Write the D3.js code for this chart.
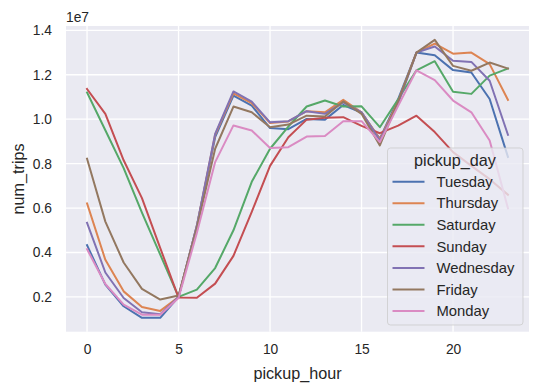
<!DOCTYPE html>
<html>
<head>
<meta charset="utf-8">
<script src="https://cdn.jsdelivr.net/npm/d3@7"></script>
<style>
  html, body { margin: 0; padding: 0; background: #ffffff; }
  svg { display: block; }
  text { font-family: "Liberation Sans", Arial, "DejaVu Sans", sans-serif; fill: #262626; }
</style>
</head>
<body>
<svg id="chart" width="540" height="391"></svg>
<script>
// ---- data (values in millions of trips) ----
const hours = d3.range(0, 24);
const days = ["Tuesday", "Thursday", "Saturday", "Sunday", "Wednesday", "Friday", "Monday"];
const colors = ["#4c72b0", "#dd8452", "#55a868", "#c44e52", "#8172b3", "#937860", "#da8bc3"];

const tuesday   = [4.33, 2.55, 1.58, 1.06, 1.06, 2.00, 5.20, 9.19, 11.06, 10.61, 9.60, 9.55, 10.01, 9.98, 10.64, 10.30, 9.12, 10.90, 13.00, 12.88, 12.21, 12.10, 10.91, 8.30];
const thursday  = [6.21, 3.67, 2.25, 1.55, 1.37, 2.00, 5.20, 9.30, 11.16, 10.72, 9.83, 9.90, 10.36, 10.31, 10.87, 10.31, 9.10, 10.80, 13.00, 13.40, 12.95, 13.00, 12.48, 10.87];
const saturday  = [11.20, 9.50, 7.80, 5.80, 3.90, 2.00, 2.33, 3.30, 5.00, 7.18, 8.67, 9.67, 10.57, 10.84, 10.57, 10.58, 9.64, 10.90, 12.20, 12.61, 11.24, 11.14, 11.96, 12.28];
const sunday    = [11.36, 10.24, 8.15, 6.45, 4.20, 1.97, 1.96, 2.60, 3.85, 5.83, 7.90, 9.19, 9.98, 10.06, 10.09, 9.70, 9.37, 9.71, 10.16, 9.42, 8.52, 7.90, 7.30, 6.60];
const wednesday = [5.34, 3.10, 1.95, 1.31, 1.22, 2.00, 5.20, 9.34, 11.25, 10.79, 9.86, 9.91, 10.36, 10.24, 10.76, 10.31, 9.04, 10.70, 13.00, 13.27, 12.63, 12.58, 11.73, 9.30];
const friday    = [8.22, 5.39, 3.55, 2.36, 1.88, 2.06, 5.10, 8.67, 10.57, 10.31, 9.64, 9.76, 10.16, 10.12, 10.80, 10.24, 8.82, 10.80, 13.00, 13.57, 12.40, 12.18, 12.55, 12.28];
const monday    = [4.15, 2.58, 1.65, 1.20, 1.20, 1.95, 4.88, 8.07, 9.72, 9.49, 8.70, 8.74, 9.22, 9.24, 9.91, 9.91, 8.97, 10.60, 12.20, 11.76, 10.84, 10.31, 9.04, 5.99];
const seriesValues = [tuesday, thursday, saturday, sunday, wednesday, friday, monday];

const xTicks = [0, 5, 10, 15, 20];
const yTicks = [0.2e7, 0.4e7, 0.6e7, 0.8e7, 1.0e7, 1.2e7, 1.4e7];

// ---- layout ----
const svg = d3.select("#chart");
const pL = 66, pR = 529, pT = 26, pB = 331.7;

const series = days.map((d, i) => ({
  name: d, color: colors[i],
  points: hours.map((h, j) => ({ x: h, y: seriesValues[i][j] * 1e6 }))
}));

// matplotlib-like 5% margins
const xExt = d3.extent(hours);
const xPad = (xExt[1] - xExt[0]) * 0.05;
const allY = seriesValues.flat().map(v => v * 1e6);
const yExt = d3.extent(allY);
const yPad = (yExt[1] - yExt[0]) * 0.05;

const x = d3.scaleLinear().domain([xExt[0] - xPad, xExt[1] + xPad]).range([pL, pR]);
const y = d3.scaleLinear().domain([yExt[0] - yPad, yExt[1] + yPad]).range([pB, pT]);

// background
svg.append("rect").attr("x", pL).attr("y", pT)
  .attr("width", pR - pL).attr("height", pB - pT).attr("fill", "#eaeaf2");

// grid
const grid = svg.append("g");
grid.selectAll("line.gx").data(xTicks).join("line")
  .attr("x1", d => x(d)).attr("x2", d => x(d)).attr("y1", pT).attr("y2", pB)
  .attr("stroke", "#ffffff").attr("stroke-width", 1.3);
grid.selectAll("line.gy").data(yTicks).join("line")
  .attr("x1", pL).attr("x2", pR).attr("y1", d => y(d)).attr("y2", d => y(d))
  .attr("stroke", "#ffffff").attr("stroke-width", 1.3);

// axes (tick labels via d3 axes, no domain or tick lines)
const xAxis = d3.axisBottom(x).tickValues(xTicks).tickSize(0).tickPadding(13).tickFormat(d3.format("d"));
const gx = svg.append("g").attr("transform", `translate(0,${pB})`).call(xAxis);
gx.select(".domain").remove();
gx.selectAll("text").attr("font-size", 13.8).attr("fill", "#262626")
  .style("font-family", '"Liberation Sans", Arial, sans-serif');

const yAxis = d3.axisLeft(y).tickValues(yTicks).tickSize(0).tickPadding(14).tickFormat(d => (d / 1e7).toFixed(1));
const gy = svg.append("g").attr("transform", `translate(${pL},0)`).call(yAxis);
gy.select(".domain").remove();
gy.selectAll("text").attr("font-size", 13.8).attr("fill", "#262626")
  .style("font-family", '"Liberation Sans", Arial, sans-serif');

// offset text
svg.append("text").attr("x", pL).attr("y", 21.5).attr("font-size", 13.8).text("1e7");

// lines
const clip = svg.append("clipPath").attr("id", "clip").append("rect")
  .attr("x", pL).attr("y", pT).attr("width", pR - pL).attr("height", pB - pT);
const line = d3.line().x(d => x(d.x)).y(d => y(d.y));
const lines = svg.append("g").attr("clip-path", "url(#clip)");
lines.selectAll("path").data(series).join("path")
  .attr("d", d => line(d.points))
  .attr("fill", "none").attr("stroke", d => d.color)
  .attr("stroke-width", 2).attr("stroke-linejoin", "round").attr("stroke-linecap", "square");

// axis labels
svg.append("text").attr("x", (pL + pR) / 2).attr("y", 378.5).attr("text-anchor", "middle")
  .attr("font-size", 16.2).text("pickup_hour");
svg.append("text").attr("transform", `translate(23.5,${(pT + pB) / 2}) rotate(-90)`)
  .attr("text-anchor", "middle").attr("font-size", 16.2).text("num_trips");

// legend
const lg = svg.append("g");
lg.append("rect").attr("x", 387.5).attr("y", 148).attr("width", 135.5).attr("height", 177)
  .attr("rx", 3).attr("fill", "#eaeaf2").attr("fill-opacity", 0.8)
  .attr("stroke", "#cccccc").attr("stroke-opacity", 0.8).attr("stroke-width", 1);
lg.append("text").attr("x", 455).attr("y", 166).attr("text-anchor", "middle")
  .attr("font-size", 16.2).text("pickup_day");
const items = lg.selectAll("g.item").data(series).join("g")
  .attr("transform", (d, i) => `translate(0,${181.7 + i * 21.55})`);
items.append("line").attr("x1", 392.5).attr("x2", 424.5).attr("y1", 0).attr("y2", 0)
  .attr("stroke", d => d.color).attr("stroke-width", 2);
items.append("text").attr("x", 436.5).attr("y", 5.2).attr("font-size", 14.8).text(d => d.name);
</script>
</body>
</html>
